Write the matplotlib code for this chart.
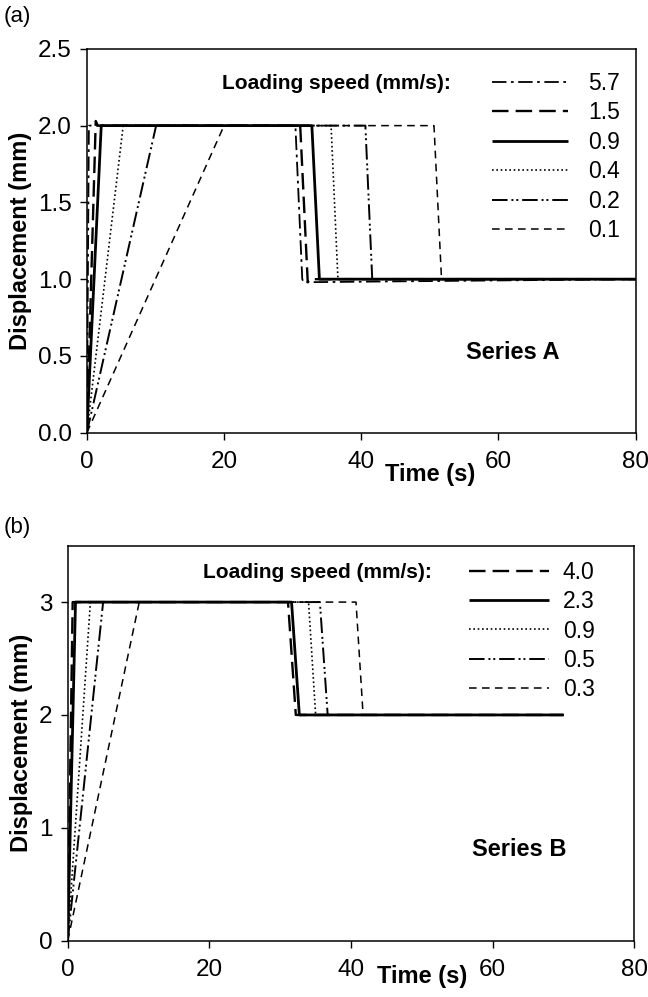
import matplotlib
matplotlib.use('Agg')
import matplotlib.pyplot as plt

plt.rcParams['font.family'] = ['Liberation Sans', 'DejaVu Sans']

# Series A: loading speed (mm/s) -> time (s), displacement (mm)
a_speeds = ['5.7', '1.5', '0.9', '0.4', '0.2', '0.1']
a_t_57 = [0, 0.3, 30.4, 31.4, 31.6, 80]
a_d_57 = [0, 2.0, 2.0, 1.0, 0.98, 1.0]
a_t_15 = [0, 1.3, 1.6, 31.1, 32.2, 32.5, 80]
a_d_15 = [0, 2.03, 2.0, 2.0, 0.98, 1.0, 1.0]
a_t_09 = [0, 2.1, 32.8, 33.9, 80]
a_d_09 = [0, 2.0, 2.0, 1.0, 1.0]
a_t_04 = [0, 5.3, 35.6, 36.6, 80]
a_d_04 = [0, 2.0, 2.0, 1.0, 1.0]
a_t_02 = [0, 10.1, 40.6, 41.6, 80]
a_d_02 = [0, 2.0, 2.0, 1.0, 1.0]
a_t_01 = [0, 20.0, 50.6, 51.7, 80]
a_d_01 = [0, 2.0, 2.0, 1.0, 1.0]

# Series B
b_speeds = ['4.0', '2.3', '0.9', '0.5', '0.3']
b_t_40 = [0, 0.7, 31.1, 32.2, 32.5, 70]
b_d_40 = [0, 3.0, 3.0, 2.0, 2.0, 2.0]
b_t_23 = [0, 1.1, 31.6, 32.7, 70]
b_d_23 = [0, 3.0, 3.0, 2.0, 2.0]
b_t_09 = [0, 3.2, 34.0, 35.0, 70]
b_d_09 = [0, 3.0, 3.0, 2.0, 2.0]
b_t_05 = [0, 5.0, 35.6, 36.7, 70]
b_d_05 = [0, 3.0, 3.0, 2.0, 2.0]
b_t_03 = [0, 10.1, 40.7, 41.7, 70]
b_d_03 = [0, 3.0, 3.0, 2.0, 2.0]

# line styles, in legend order
st_dashdot = dict(ls=(0, (8, 2.5, 1.5, 2.5)), lw=1.3)
st_long = dict(ls=(0, (7, 3)), lw=1.7)
st_solid = dict(ls='-', lw=2.0)
st_dot = dict(ls=(0, (1, 1.6)), lw=1.2)
st_ddot = dict(ls=(0, (8, 2, 1, 1.5, 1, 2)), lw=1.4)
st_dash = dict(ls=(0, (5, 3.5)), lw=1.1)


def style_axes(ax, xlabel_pos, ylabel_x):
    for s in ax.spines.values():
        s.set_linewidth(1.1)
    ax.tick_params(direction='out', length=5, width=1.0, labelsize=17.5)
    ax.tick_params(axis='x', pad=8)
    ax.tick_params(axis='y', pad=6)
    ax.set_xlim(0, 80)
    ax.set_xticks([0, 20, 40, 60, 80])
    ax.set_xlabel('Time (s)', fontsize=17, fontweight='bold')
    ax.xaxis.set_label_coords(*xlabel_pos)
    ax.xaxis.label.set_va('center')
    ax.set_ylabel('Displacement (mm)', fontsize=17, fontweight='bold')
    ax.yaxis.set_label_coords(ylabel_x, 0.5)
    ax.yaxis.label.set_va('center')


fig = plt.figure(figsize=(6.48, 9.97), dpi=100)

# ---- panel (a)
ax1 = fig.add_axes([0.134, 0.566, 0.847, 0.385])
lines_a = []
for t, d, st in [(a_t_57, a_d_57, st_dashdot), (a_t_15, a_d_15, st_long),
                 (a_t_09, a_d_09, st_solid), (a_t_04, a_d_04, st_dot),
                 (a_t_02, a_d_02, st_ddot), (a_t_01, a_d_01, st_dash)]:
    ln, = ax1.plot(t, d, color='black', solid_capstyle='butt', dash_capstyle='butt', **st)
    lines_a.append(ln)
ax1.set_ylim(0, 2.5)
ax1.set_yticks([0, 0.5, 1.0, 1.5, 2.0, 2.5])
ax1.set_yticklabels(['0.0', '0.5', '1.0', '1.5', '2.0', '2.5'])
style_axes(ax1, (0.625, -0.11), -0.12)
ax1.legend(lines_a, a_speeds, loc='upper left', bbox_to_anchor=(0.738, 0.94),
           frameon=False, fontsize=16.5, handlelength=3.3, handletextpad=0.9,
           labelspacing=0.28, borderpad=0, borderaxespad=0)
ax1.text(0.246, 0.909, 'Loading speed (mm/s):', transform=ax1.transAxes,
         fontsize=15, fontweight='bold', ha='left', va='center')
ax1.text(0.776, 0.208, 'Series A', transform=ax1.transAxes,
         fontsize=17, fontweight='bold', ha='center', va='center')
fig.text(0.005, 0.983, '(a)', fontsize=16, ha='left', va='center')

# ---- panel (b)
ax2 = fig.add_axes([0.1045, 0.0565, 0.8745, 0.3962])
lines_b = []
for t, d, st in [(b_t_40, b_d_40, st_long), (b_t_23, b_d_23, st_solid),
                 (b_t_09, b_d_09, st_dot), (b_t_05, b_d_05, st_ddot),
                 (b_t_03, b_d_03, st_dash)]:
    ln, = ax2.plot(t, d, color='black', solid_capstyle='butt', dash_capstyle='butt', **st)
    lines_b.append(ln)
ax2.set_ylim(0, 3.5)
ax2.set_yticks([0, 1, 2, 3])
style_axes(ax2, (0.625, -0.091), -0.081)
ax2.legend(lines_b, b_speeds, loc='upper left', bbox_to_anchor=(0.708, 0.962),
           frameon=False, fontsize=16.5, handlelength=3.5, handletextpad=0.6,
           labelspacing=0.28, borderpad=0, borderaxespad=0)
ax2.text(0.239, 0.933, 'Loading speed (mm/s):', transform=ax2.transAxes,
         fontsize=15, fontweight='bold', ha='left', va='center')
ax2.text(0.796, 0.23, 'Series B', transform=ax2.transAxes,
         fontsize=17, fontweight='bold', ha='center', va='center')
fig.text(0.005, 0.471, '(b)', fontsize=16, ha='left', va='center')

fig.savefig('out.png', dpi=100)
